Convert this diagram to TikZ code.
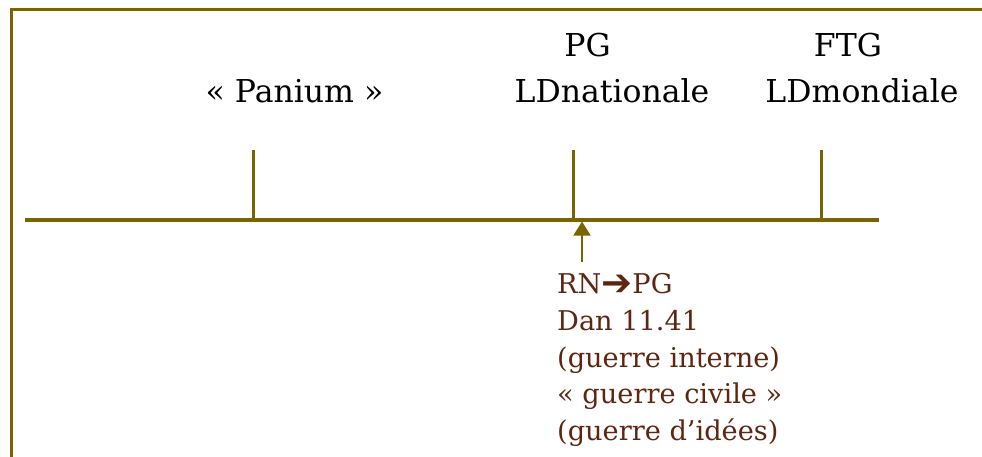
\documentclass[tikz,border=0pt]{standalone}
\usepackage{fontspec}
\setmainfont{DejaVu Serif}
\newfontfamily\symfont{DejaVu Sans Bold}
\usetikzlibrary{arrows.meta}
\definecolor{olivebar}{RGB}{122,100,0}
\definecolor{browntxt}{RGB}{94,38,16}
\tikzset{
  frameline/.style={draw=olivebar, line width=3.6pt},
  axisline/.style={draw=olivebar, line width=3.6pt},
  tickline/.style={draw=olivebar, line width=3pt},
  uparrow/.style={draw=olivebar, line width=1.6pt, -{Triangle[width=17pt,length=14pt]}},
  toplabel/.style={anchor=base, inner sep=0pt, text=black, font=\fontsize{31.5}{38}\selectfont},
  notelabel/.style={anchor=base west, inner sep=0pt, text=browntxt, font=\fontsize{27.2}{32}\selectfont},
}
\begin{document}
\begin{tikzpicture}[x=1pt, y=-1pt]
\useasboundingbox (0,0) rectangle (982,457);
% frame
\draw[frameline, line join=miter] (11.5,457) -- (11.5,9.5) -- (982,9.5);
% axis
\coordinate (axL) at (25,220);
\coordinate (axR) at (879,220);
\draw[axisline] (axL) -- (axR);
% ticks
\coordinate (t1top) at (253,150); \coordinate (t1bot) at (253,219);
\coordinate (t2top) at (573,150); \coordinate (t2bot) at (573,219);
\coordinate (t3top) at (821,150); \coordinate (t3bot) at (821,219);
\draw[tickline] (t1top) -- (t1bot);
\draw[tickline] (t2top) -- (t2bot);
\draw[tickline] (t3top) -- (t3bot);
% labels
\node[toplabel] (panium) at (294.5,103) {« Panium »};
\node[toplabel] (pg) at (587.5,57) {PG};
\node[toplabel] (ldnat) at (612,103) {LDnationale};
\node[toplabel] (ftg) at (848,57) {FTG};
\node[toplabel] (ldmond) at (862,103) {LDmondiale};
% note
\node[notelabel] (n1) at (557,293) {RN\raisebox{-2.5pt}{\symfont\fontsize{37}{37}\selectfont ➔}PG};
\node[notelabel] (n2) at (557,330) {Dan 11.41};
\node[notelabel] (n3) at (557,367) {(guerre interne)};
\node[notelabel] (n4) at (557,403.5) {« guerre civile »};
\node[notelabel] (n5) at (557,440) {(guerre d’idées)};
% arrow
\coordinate (arrtail) at (582,262);
\coordinate (arrtip) at (582,221.5);
\draw[uparrow] (arrtail) -- (arrtip);
\end{tikzpicture}
\end{document}
